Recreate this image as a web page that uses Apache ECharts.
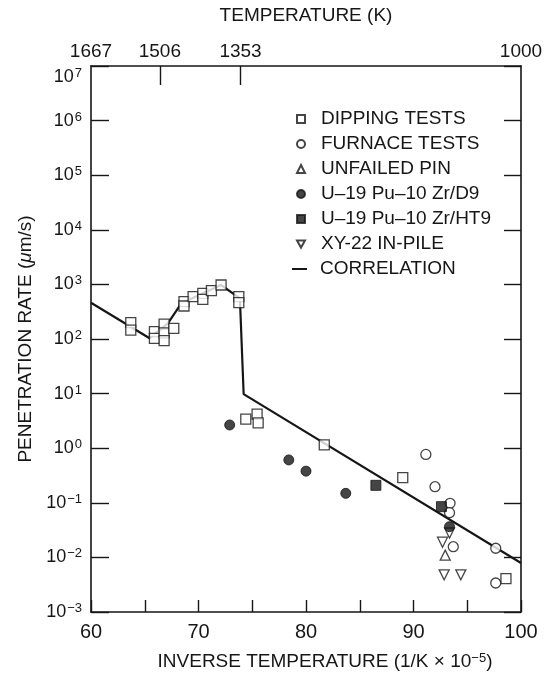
<!DOCTYPE html>
<html>
<head>
<meta charset="utf-8">
<title>Penetration rate vs inverse temperature</title>
<script src="https://cdn.jsdelivr.net/npm/echarts@6/dist/echarts.min.js"></script>
<style>
  html, body { margin: 0; padding: 0; background: #ffffff; }
  #chart { width: 551px; height: 678px; }
</style>
</head>
<body>
<div id="chart"></div>
<script>
// Inverse temperature (1/K x 1e-5) and penetration rate (um/s) pairs per data set
const dippingTests = [
  [63.7, 199], [63.7, 146], [65.9, 136], [65.9, 103], [66.8, 188], [66.8, 130], [66.8, 93],
  [67.7, 157], [68.65, 482], [68.65, 402], [69.5, 596], [70.4, 687], [70.4, 533], [71.2, 767],
  [72.1, 975], [73.75, 596], [73.75, 462], [74.4, 3.4], [75.45, 4.2], [75.55, 2.9],
  [81.7, 1.15], [89.0, 0.29], [98.6, 0.0041]
];
const furnaceTests = [
  [91.15, 0.77], [92.0, 0.197], [93.4, 0.098], [93.35, 0.066], [93.7, 0.0157],
  [97.65, 0.0147], [97.65, 0.0034]
];
const unfailedPin = [[92.95, 0.011]];
const d9Cladding = [[72.9, 2.66], [78.4, 0.61], [80.0, 0.38], [83.7, 0.149], [93.35, 0.0365]];
const ht9Cladding = [[86.5, 0.209], [92.6, 0.085]];
const xy22InPile = [[93.35, 0.028], [92.7, 0.019], [92.85, 0.0048], [94.4, 0.0048]];
const correlation = [
  [60.0, 462], [65.45, 103], [67.15, 194], [68.4, 451], [72.1, 975], [73.85, 556],
  [74.2, 9.8], [100.0, 0.0079]
];

// Axis ticks
const yMin = 1e-3, yMax = 1e7;
const yDecades = [1e-3, 1e-2, 1e-1, 1e0, 1e1, 1e2, 1e3, 1e4, 1e5, 1e6, 1e7];
const bottomTicks = [60, 65, 70, 75, 80, 85, 90, 95, 100];
const bottomLabels = [60, 70, 80, 90, 100];
const topTempLabels = [1667, 1506, 1353, 1000];   // kelvin
const topTempTicks = [1506, 1353];

const FONT = '"Liberation Sans", Arial, Helvetica, sans-serif';
const INK = '#161616';

// 1/T scaled to the bottom axis units, kept inside the axis range
const toInv = T => Math.min(100, Math.max(60, 1e5 / T));
const tempAt = v => {
  const hit = topTempLabels.find(T => Math.abs(toInv(T) - v) < 1e-6);
  return hit === undefined ? '' : String(hit);
};

function powLabel(v) {
  const e = Math.round(Math.log10(v));
  const exp = (e < 0 ? '\u2212' : '') + Math.abs(e);
  const body = '{b|10}{s|' + exp + '}';
  // the top label sits a little below the corner
  return e === 7 ? '{gap| }\n' + body : body;
}

const openStyle = { color: '#ffffff', borderColor: INK, borderWidth: 1.3 };
const solidStyle = { color: INK, borderColor: INK, borderWidth: 1 };
const downTri = 'path://M0,0 L10,0 L5,9 Z';

const markerNames = [
  'DIPPING TESTS', 'FURNACE TESTS', 'UNFAILED PIN',
  'U\u201319 Pu\u201310 Zr/D9', 'U\u201319 Pu\u201310 Zr/HT9', 'XY-22 IN-PILE'
];
const markerIcons = ['rect', 'circle', 'triangle', 'circle', 'rect', downTri];

const legendText = { fontFamily: FONT, fontSize: 19, color: INK, lineHeight: 20 };

const chart = echarts.init(document.getElementById('chart'), null, { renderer: 'canvas' });

chart.setOption({
  backgroundColor: '#ffffff',
  animation: false,
  textStyle: { fontFamily: FONT, color: INK },
  grid: { left: 91, right: 30, top: 66, bottom: 66, outerBoundsMode: 'none', containLabel: false },
  legend: [
    {
      orient: 'vertical',
      left: 291,
      top: 104,
      itemWidth: 8,
      itemHeight: 8,
      itemGap: 5,
      selectedMode: false,
      textStyle: Object.assign({ padding: [0, 0, 0, 11] }, legendText),
      data: markerNames.map((name, i) => ({ name, icon: markerIcons[i] }))
    },
    {
      orient: 'vertical',
      left: 287,
      top: 254,
      itemWidth: 15,
      itemHeight: 2,
      selectedMode: false,
      textStyle: Object.assign({ padding: [0, 0, 0, 8] }, legendText),
      data: [{ name: 'CORRELATION', icon: 'rect' }]
    }
  ],
  xAxis: [
    {
      type: 'value',
      position: 'bottom',
      min: 60, max: 100, interval: 5,
      name: 'INVERSE TEMPERATURE (1/K \u00d7 10{s|\u22125})',
      nameLocation: 'middle',
      nameGap: 40,
      nameTextStyle: {
        fontFamily: FONT, fontSize: 19, color: INK,
        padding: [0, 0, 0, 38],
        rich: {
          s: { fontSize: 13, fontFamily: FONT, color: INK, verticalAlign: 'top', lineHeight: 13 }
        }
      },
      axisLine: { lineStyle: { color: INK, width: 1.6 } },
      axisTick: { inside: true, length: 12, lineStyle: { color: INK, width: 1.4 }, customValues: bottomTicks },
      axisLabel: {
        margin: 10, fontSize: 20, color: INK, fontFamily: FONT,
        customValues: bottomLabels
      },
      splitLine: { show: false }
    },
    {
      type: 'value',
      position: 'top',
      min: 60, max: 100,
      name: 'TEMPERATURE (K)',
      nameLocation: 'middle',
      nameGap: 41,
      nameTextStyle: { fontFamily: FONT, fontSize: 19, color: INK },
      axisLine: { lineStyle: { color: INK, width: 1.6 } },
      axisTick: {
        inside: true, length: 19, lineStyle: { color: INK, width: 1.4 },
        customValues: topTempTicks.map(toInv)
      },
      axisLabel: {
        margin: 5, fontSize: 19, color: INK, fontFamily: FONT,
        customValues: topTempLabels.map(toInv),
        formatter: tempAt
      },
      splitLine: { show: false }
    }
  ],
  yAxis: [
    {
      type: 'log',
      logBase: 10,
      min: yMin, max: yMax,
      position: 'left',
      name: 'PENETRATION RATE ({i|\u03bc}m/s)',
      nameLocation: 'middle',
      nameGap: 53,
      nameTextStyle: {
        fontFamily: FONT, fontSize: 19, color: INK,
        rich: { i: { fontStyle: 'italic', fontFamily: FONT, fontSize: 19, color: INK } }
      },
      axisLine: { lineStyle: { color: INK, width: 1.6 } },
      axisTick: { inside: true, length: 18, lineStyle: { color: INK, width: 1.4 }, customValues: yDecades },
      axisLabel: {
        margin: 9, color: INK, fontFamily: FONT,
        customValues: yDecades,
        formatter: powLabel,
        rich: {
          b: { fontSize: 18, fontFamily: FONT, color: INK, lineHeight: 20 },
          s: { fontSize: 13, fontFamily: FONT, color: INK, lineHeight: 13, verticalAlign: 'top', padding: [0, 0, 0, 1] },
          gap: { fontSize: 10, lineHeight: 22 }
        }
      },
      splitLine: { show: false }
    },
    {
      type: 'log',
      logBase: 10,
      min: yMin, max: yMax,
      position: 'right',
      axisLine: { lineStyle: { color: INK, width: 1.6 } },
      axisTick: { inside: true, length: 17, lineStyle: { color: INK, width: 1.4 }, customValues: yDecades },
      axisLabel: { show: false },
      splitLine: { show: false }
    }
  ],
  series: [
    {
      name: 'CORRELATION',
      type: 'line',
      data: correlation,
      symbol: 'none',
      lineStyle: { color: INK, width: 2.2 },
      itemStyle: { color: INK },
      z: 1
    },
    {
      name: 'DIPPING TESTS',
      type: 'scatter',
      data: dippingTests,
      symbol: 'rect',
      symbolSize: 10,
      itemStyle: openStyle,
      z: 3
    },
    {
      name: 'FURNACE TESTS',
      type: 'scatter',
      data: furnaceTests,
      symbol: 'circle',
      symbolSize: 10,
      itemStyle: openStyle,
      z: 3
    },
    {
      name: 'UNFAILED PIN',
      type: 'scatter',
      data: unfailedPin,
      symbol: 'triangle',
      symbolSize: 10,
      itemStyle: openStyle,
      z: 3
    },
    {
      name: 'U\u201319 Pu\u201310 Zr/D9',
      type: 'scatter',
      data: d9Cladding,
      symbol: 'circle',
      symbolSize: 10,
      itemStyle: solidStyle,
      z: 4
    },
    {
      name: 'U\u201319 Pu\u201310 Zr/HT9',
      type: 'scatter',
      data: ht9Cladding,
      symbol: 'rect',
      symbolSize: 10,
      itemStyle: solidStyle,
      z: 4
    },
    {
      name: 'XY-22 IN-PILE',
      type: 'scatter',
      data: xy22InPile,
      symbol: downTri,
      symbolSize: 10,
      itemStyle: openStyle,
      z: 3
    }
  ]
});
</script>
</body>
</html>
